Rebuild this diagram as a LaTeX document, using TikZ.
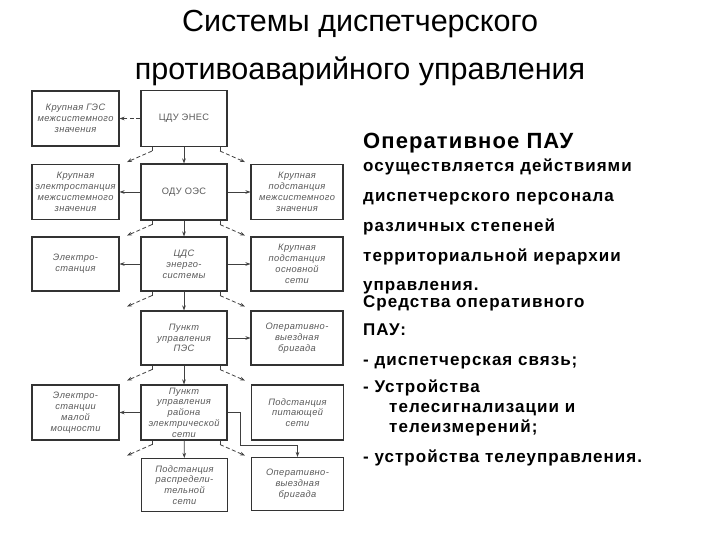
\documentclass[tikz,border=0pt]{standalone}
\usepackage{fontspec}
\setmainfont{Liberation Sans}
\usetikzlibrary{arrows.meta}
\begin{document}
\begin{tikzpicture}[x=1pt,y=-1pt,
  blk/.style={draw=black!80, line width=1.1pt, inner sep=0pt, align=center,
    font=\itshape\fontsize{9.3}{10.8}\selectfont\addfontfeatures{LetterSpace=4}, text=black!65},
  colL/.style={minimum width=87pt},
  colM/.style={minimum width=86pt},
  colR/.style={minimum width=92pt},
  ar/.style={-{Stealth[length=5pt,width=3.6pt]}, line width=0.8pt, draw=black!75},
  dsh/.style={ar, dash pattern=on 4pt off 2.5pt},
  stub/.style={line width=0.8pt, draw=black!75},
  ttl/.style={anchor=base, font=\fontsize{30.5}{32}\selectfont},
  bodyl/.style={anchor=base west, inner sep=0pt, font=\bfseries\fontsize{17}{19}\selectfont\addfontfeatures{LetterSpace=6}},
  headl/.style={anchor=base west, inner sep=0pt, font=\bfseries\fontsize{22}{24}\selectfont\addfontfeatures{LetterSpace=5}}]
\useasboundingbox[fill=white] (0,0) rectangle (720,540);

% title
\node[ttl] (t1) at (360,32) {Системы диспетчерского};
\node[ttl] (t2) at (360,80) {противоаварийного управления};

% boxes
\node[blk,colL,minimum height=55pt] (gs)  at (75.5,118.5) {Крупная ГЭС\\межсистемного\\значения};
\node[blk,colM,minimum height=56pt] (cdu) at (184,118.5) {\upshape ЦДУ ЭНЕС};
\node[blk,colL,minimum height=55pt] (es1) at (75.5,192) {Крупная\\электростанция\\межсистемного\\значения};
\node[blk,colM,minimum height=56pt] (odu) at (184,192) {\upshape ОДУ ОЭС};
\node[blk,colR,minimum height=55pt] (ps1) at (297,192) {Крупная\\подстанция\\межсистемного\\значения};
\node[blk,colL,minimum height=54pt] (es2) at (75.5,264) {Электро-\\станция};
\node[blk,colM,minimum height=54pt] (cds) at (184,264) {ЦДС\\энерго-\\системы};
\node[blk,colR,minimum height=54pt] (ps2) at (297,264) {Крупная\\подстанция\\основной\\сети};
\node[blk,colM,minimum height=54pt] (pes) at (184,338) {Пункт\\управления\\ПЭС};
\node[blk,colR,minimum height=54pt] (ob1) at (297,338) {Оперативно-\\выездная\\бригада};
\node[blk,colL,minimum height=55pt] (es3) at (75.5,412.5) {Электро-\\станции\\малой\\мощности};
\node[blk,colM,minimum height=55pt] (res) at (184,412.5) {Пункт\\управления\\района\\электрической\\сети};
\node[blk,colR,minimum height=55pt] (ps3) at (297.5,412.5) {Подстанция\\питающей\\сети};
\node[blk,colM,minimum height=53pt] (ps4) at (184.5,485) {Подстанция\\распредели-\\тельной\\сети};
\node[blk,colR,minimum height=53pt] (ob2) at (297.5,484) {Оперативно-\\выездная\\бригада};

% main connectors
\draw[dsh] (cdu.west) -- (gs.east);
\draw[ar] (cdu) -- (odu);
\draw[ar] (odu) -- (es1);
\draw[ar] (odu) -- (ps1);
\draw[ar] (odu) -- (cds);
\draw[ar] (cds) -- (es2);
\draw[ar] (cds) -- (ps2);
\draw[ar] (cds) -- (pes);
\draw[ar] (pes) -- (ob1);
\draw[ar] (pes) -- (res);
\draw[ar] (res) -- (es3);
\draw[ar] (res) -- (ps4);
\draw[ar, line width=1.3pt] (res.east) -| ++(13,33) -| (ob2.north);

% dashed side branches (solid short stub, dashed diagonal)
\foreach \n in {cdu,odu,cds,pes,res}{
  \draw[stub] ([xshift=-32pt]\n.south) -- ++(0,4) coordinate (\n L);
  \draw[dsh] (\n L) -- ++(-25,11);
  \draw[stub] ([xshift=36pt]\n.south) -- ++(0,4) coordinate (\n R);
  \draw[dsh] (\n R) -- ++(25,11);
}

% right text
\node[headl] (h) at (363,149) {Оперативное ПАУ};
\node[bodyl] (l1) at (363,172) {осуществляется действиями};
\node[bodyl] (l2) at (363,202) {диспетчерского персонала};
\node[bodyl] (l3) at (363,231) {различных степеней};
\node[bodyl] (l4) at (363,261) {территориальной иерархии};
\node[bodyl] (l5) at (363,290) {управления.};
\node[bodyl] (l6) at (363,307) {Средства оперативного};
\node[bodyl] (l7) at (363,335) {ПАУ:};
\node[bodyl] (l8) at (363,365) {- диспетчерская связь;};
\node[bodyl] (l9) at (363,392) {- Устройства};
\node[bodyl] (l10) at (389,412) {телесигнализации и};
\node[bodyl] (l11) at (389,432) {телеизмерений;};
\node[bodyl] (l12) at (363,462) {- устройства телеуправления.};
\end{tikzpicture}
\end{document}
